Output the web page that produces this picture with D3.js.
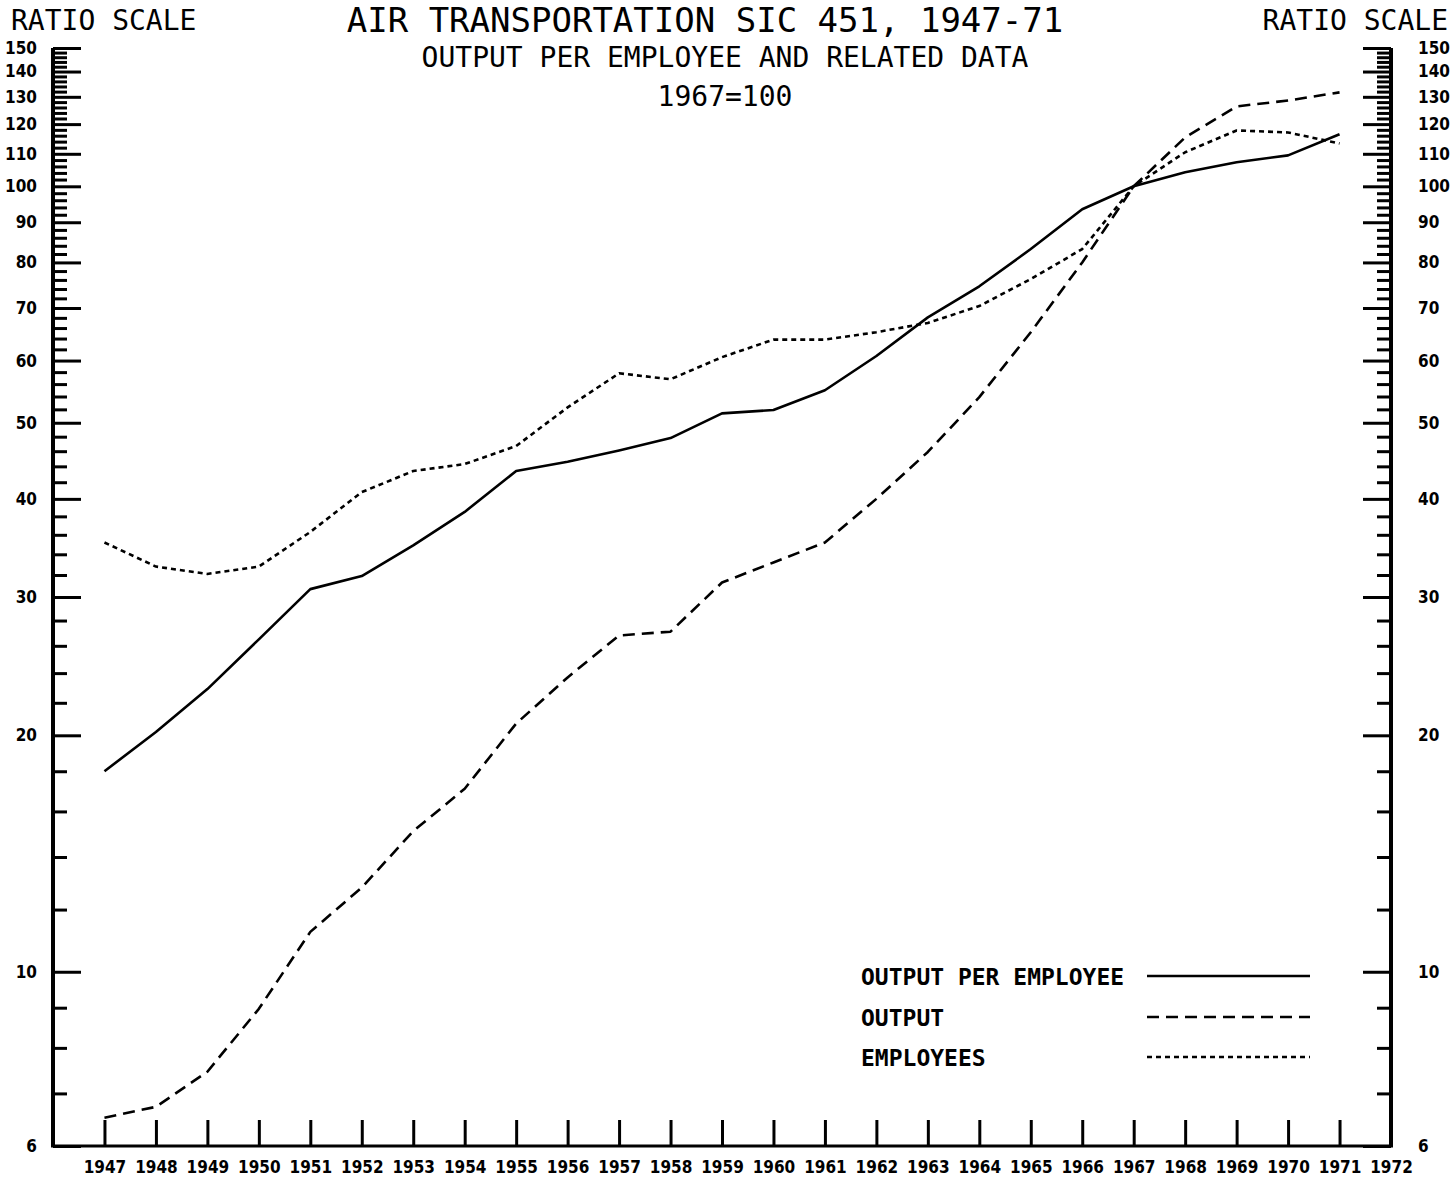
<!DOCTYPE html>
<html>
<head>
<meta charset="utf-8">
<script src="https://cdn.jsdelivr.net/npm/d3@7"></script>
<style>
  html, body { margin: 0; padding: 0; background: #fff; }
  svg { display: block; }
  .plotter { font-family: "DejaVu Sans Mono", monospace; fill: #000; }
  .num { font-family: "Liberation Sans Narrow", "Arial Narrow", "DejaVu Sans Condensed", sans-serif; font-weight: bold; font-size: 17px; fill: #000; }
</style>
</head>
<body>
<svg id="chart" width="1452" height="1179"></svg>
<script>
// ---- data (index, 1967 = 100) ----
const years = [1947,1948,1949,1950,1951,1952,1953,1954,1955,1956,1957,1958,1959,1960,1961,1962,1963,1964,1965,1966,1967,1968,1969,1970,1971];
const outputPerEmployee = [18.0,20.2,22.9,26.5,30.7,31.9,34.9,38.5,43.4,44.6,46.1,47.8,51.4,51.9,55.0,60.8,68.1,74.6,83.2,93.5,100,104.2,107.3,109.5,116.5];
const output = [6.52,6.73,7.46,8.97,11.24,12.8,15.1,17.1,20.7,23.7,26.8,27.1,31.3,33.2,35.2,40.0,45.9,53.9,65.2,80.0,100,115.4,126.4,128.6,131.7];
const employees = [35.2,32.8,32.1,32.8,36.3,40.8,43.4,44.3,46.7,52.3,57.8,56.8,60.6,63.8,63.8,65.2,67.0,70.4,76.2,83.2,100,110.5,117.8,117.1,113.4];

const yearTickLabels = [1947,1948,1949,1950,1951,1952,1953,1954,1955,1956,1957,1958,1959,1960,1961,1962,1963,1964,1965,1966,1967,1968,1969,1970,1971,1972];
const yMajorLabels = [6,10,20,30,40,50,60,70,80,90,100,110,120,130,140,150];
const seriesNames = ["OUTPUT PER EMPLOYEE","OUTPUT","EMPLOYEES"];

const titleText = "AIR TRANSPORTATION SIC 451, 1947-71";
const subtitleText = "OUTPUT PER EMPLOYEE AND RELATED DATA";
const baseText = "1967=100";
const scaleText = "RATIO SCALE";

// ---- layout ----
const svg = d3.select("#chart");
const plotLeft = 53, plotRight = 1391, plotBottom = 1146, plotTop = 48;

const x = d3.scaleLinear().domain([1946, 1972]).range([plotLeft, plotRight]);
const y = d3.scaleLog().domain([6, 150]).range([plotBottom, plotTop]);

// minor ticks: every 1 from 6 to 10, every 2 above
const minorVals = d3.range(7, 10, 1).concat(d3.range(12, 150, 2)).filter(v => !yMajorLabels.includes(v));

function styleAxis(g, width) {
  g.select(".domain").attr("stroke", "#000").attr("stroke-width", width);
  g.selectAll(".tick line").attr("stroke", "#000").attr("stroke-width", 3);
  g.selectAll(".tick text").attr("class", "num").attr("fill", "#000");
}

// left axis
const gLeftMinor = svg.append("g").attr("transform", `translate(${plotLeft},0)`)
  .call(d3.axisLeft(y).tickValues(minorVals).tickSize(-14).tickSizeOuter(0).tickFormat(""));
gLeftMinor.select(".domain").remove();
gLeftMinor.selectAll(".tick line").attr("stroke", "#000").attr("stroke-width", 3);

const gLeft = svg.append("g").attr("transform", `translate(${plotLeft},0)`)
  .call(d3.axisLeft(y).tickValues(yMajorLabels).tickSize(-28).tickSizeOuter(0).tickPadding(16).tickFormat(d3.format("d")));
styleAxis(gLeft, 4);
gLeft.select(".domain").attr("d", `M0,${plotBottom+1}V${plotTop}`);

// right axis
const gRightMinor = svg.append("g").attr("transform", `translate(${plotRight},0)`)
  .call(d3.axisRight(y).tickValues(minorVals).tickSize(-14).tickSizeOuter(0).tickFormat(""));
gRightMinor.select(".domain").remove();
gRightMinor.selectAll(".tick line").attr("stroke", "#000").attr("stroke-width", 3);

const gRight = svg.append("g").attr("transform", `translate(${plotRight},0)`)
  .call(d3.axisRight(y).tickValues(yMajorLabels).tickSize(-28).tickSizeOuter(0).tickPadding(27).tickFormat(d3.format("d")));
styleAxis(gRight, 4);
gRight.select(".domain").attr("d", `M0,${plotBottom+1}V${plotTop}`);

// bottom axis
const gBottom = svg.append("g").attr("transform", `translate(0,${plotBottom})`)
  .call(d3.axisBottom(x).tickValues(yearTickLabels).tickSize(-26).tickSizeOuter(0).tickPadding(15).tickFormat(d3.format("d")));
styleAxis(gBottom, 3);
gBottom.select(".domain").attr("d", `M${plotLeft-2},0H${plotRight+2}`);
gBottom.selectAll(".tick").filter(d => d === 1972).select("line").remove();
gBottom.selectAll(".tick text").attr("dy", "0.71em");

// ---- series ----
const line = d3.line().x((d, i) => x(years[i])).y(d => y(d));
const seriesDefs = [
  { values: outputPerEmployee, dash: null },
  { values: output, dash: "12,7" },
  { values: employees, dash: "5,4" }
];
seriesDefs.forEach(s => {
  svg.append("path")
    .datum(s.values)
    .attr("d", line)
    .attr("fill", "none")
    .attr("stroke", "#000")
    .attr("stroke-width", 2.6)
    .attr("stroke-linejoin", "round")
    .attr("stroke-dasharray", s.dash);
});

// ---- legend ----
const legendY = [976, 1017, 1057];
const legend = svg.append("g");
seriesNames.forEach((name, i) => {
  legend.append("text").attr("class", "plotter")
    .attr("x", 861).attr("y", legendY[i] + 9)
    .attr("font-size", 23).attr("font-weight", "bold")
    .text(name);
  legend.append("line")
    .attr("x1", 1147).attr("x2", 1310)
    .attr("y1", legendY[i]).attr("y2", legendY[i])
    .attr("stroke", "#000").attr("stroke-width", 2.6)
    .attr("stroke-dasharray", seriesDefs[i].dash);
});

// ---- titles ----
svg.append("text").attr("class", "plotter").attr("x", 705).attr("y", 32)
  .attr("text-anchor", "middle").attr("font-size", 34).text(titleText);
svg.append("text").attr("class", "plotter").attr("x", 725).attr("y", 67)
  .attr("text-anchor", "middle").attr("font-size", 28).text(subtitleText);
svg.append("text").attr("class", "plotter").attr("x", 725).attr("y", 106)
  .attr("text-anchor", "middle").attr("font-size", 28).text(baseText);
svg.append("text").attr("class", "plotter").attr("x", 11).attr("y", 30)
  .attr("font-size", 28).text(scaleText);
svg.append("text").attr("class", "plotter").attr("x", 1448).attr("y", 30)
  .attr("text-anchor", "end").attr("font-size", 28).text(scaleText);
</script>
</body>
</html>
